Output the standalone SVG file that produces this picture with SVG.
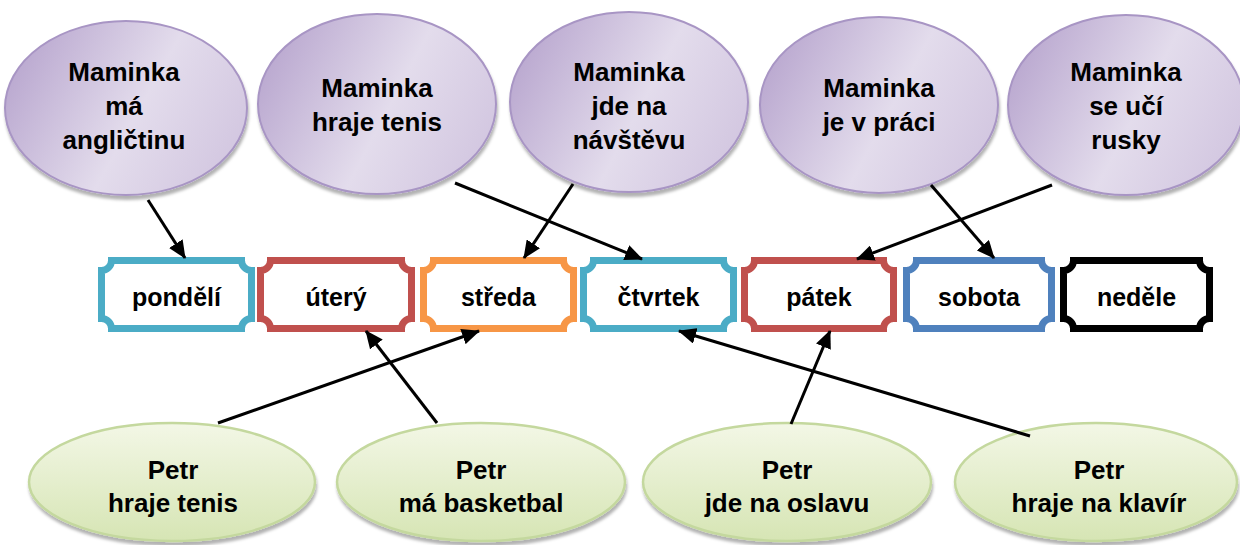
<svg xmlns="http://www.w3.org/2000/svg" width="1240" height="545" viewBox="0 0 1240 545">
<defs>
  <linearGradient id="gPurple" x1="0" y1="0.3" x2="1" y2="0.7">
    <stop offset="0" stop-color="#b9a7cf"/>
    <stop offset="0.55" stop-color="#e3dcec"/>
    <stop offset="1" stop-color="#d2c6e0"/>
  </linearGradient>
  <linearGradient id="gGreen" x1="0" y1="0" x2="0" y2="1">
    <stop offset="0" stop-color="#f3f7e6"/>
    <stop offset="1" stop-color="#d6e5b4"/>
  </linearGradient>
  <filter id="shadow" x="-10%" y="-10%" width="120%" height="130%">
    <feDropShadow dx="1" dy="4" stdDeviation="1.5" flood-color="#000" flood-opacity="0.3"/>
  </filter>
  <marker id="arrow" markerUnits="userSpaceOnUse" markerWidth="18" markerHeight="16" refX="17" refY="8" orient="auto">
    <path d="M0,0 L18,8 L0,16 z" fill="#000"/>
  </marker>
</defs>
<style>
  .txt { font-family: "Liberation Sans", Arial, sans-serif; font-weight: bold; font-size: 26px; fill: #000; text-anchor: middle; }
  .day { font-family: "Liberation Sans", Arial, sans-serif; font-weight: bold; font-size: 25px; fill: #000; text-anchor: middle; }
  .mom { fill: url(#gPurple); stroke: #a895c4; stroke-width: 2; filter: url(#shadow); }
  .petr { fill: url(#gGreen); stroke: #c4d89e; stroke-width: 2.5; filter: url(#shadow); }
  .box { fill: #fff; stroke-width: 7; }
  .conn { stroke: #000; stroke-width: 3; fill: none; marker-end: url(#arrow); }
</style>
<rect width="1240" height="545" fill="#fff"/>

<g id="mom1"><ellipse class="mom" cx="126" cy="108" rx="121" ry="87"/>
  <text class="txt" x="124" y="81">Maminka</text><text class="txt" x="124" y="115">má</text><text class="txt" x="124" y="149">angličtinu</text></g>
<g id="mom2"><ellipse class="mom" cx="377" cy="104" rx="119" ry="90"/>
  <text class="txt" x="377" y="97">Maminka</text><text class="txt" x="377" y="131">hraje tenis</text></g>
<g id="mom3"><ellipse class="mom" cx="629" cy="102" rx="119" ry="90"/>
  <text class="txt" x="629" y="81">Maminka</text><text class="txt" x="629" y="115">jde na</text><text class="txt" x="629" y="149">návštěvu</text></g>
<g id="mom4"><ellipse class="mom" cx="879" cy="105" rx="119" ry="88"/>
  <text class="txt" x="879" y="97">Maminka</text><text class="txt" x="879" y="131">je v práci</text></g>
<g id="mom5"><ellipse class="mom" cx="1126" cy="105" rx="118" ry="90"/>
  <text class="txt" x="1126" y="81">Maminka</text><text class="txt" x="1126" y="115">se učí</text><text class="txt" x="1126" y="149">rusky</text></g>

<g id="pondeli"><path class="box" stroke="#4bacc6" d="M111.5,260.5 H241.5 A10,10 0 0 0 251.5,270.5 V318.5 A10,10 0 0 0 241.5,328.5 H111.5 A10,10 0 0 0 101.5,318.5 V270.5 A10,10 0 0 0 111.5,260.5 Z"/>
  <text class="day" x="176.5" y="306">pondělí</text></g>
<g id="utery"><path class="box" stroke="#c0504d" d="M270.5,260.5 H401.5 A10,10 0 0 0 411.5,270.5 V318.5 A10,10 0 0 0 401.5,328.5 H270.5 A10,10 0 0 0 260.5,318.5 V270.5 A10,10 0 0 0 270.5,260.5 Z"/>
  <text class="day" x="336" y="306">úterý</text></g>
<g id="streda"><path class="box" stroke="#f79646" d="M433.5,260.5 H563.5 A10,10 0 0 0 573.5,270.5 V318.5 A10,10 0 0 0 563.5,328.5 H433.5 A10,10 0 0 0 423.5,318.5 V270.5 A10,10 0 0 0 433.5,260.5 Z"/>
  <text class="day" x="498.5" y="306">středa</text></g>
<g id="ctvrtek"><path class="box" stroke="#4bacc6" d="M593.5,260.5 H723.5 A10,10 0 0 0 733.5,270.5 V318.5 A10,10 0 0 0 723.5,328.5 H593.5 A10,10 0 0 0 583.5,318.5 V270.5 A10,10 0 0 0 593.5,260.5 Z"/>
  <text class="day" x="658.5" y="306">čtvrtek</text></g>
<g id="patek"><path class="box" stroke="#c0504d" d="M754.5,260.5 H883.5 A10,10 0 0 0 893.5,270.5 V318.5 A10,10 0 0 0 883.5,328.5 H754.5 A10,10 0 0 0 744.5,318.5 V270.5 A10,10 0 0 0 754.5,260.5 Z"/>
  <text class="day" x="819" y="306">pátek</text></g>
<g id="sobota"><path class="box" stroke="#4f81bd" d="M916.5,260.5 H1041.5 A10,10 0 0 0 1051.5,270.5 V318.5 A10,10 0 0 0 1041.5,328.5 H916.5 A10,10 0 0 0 906.5,318.5 V270.5 A10,10 0 0 0 916.5,260.5 Z"/>
  <text class="day" x="979" y="306">sobota</text></g>
<g id="nedele"><path class="box" stroke="#000000" d="M1073.5,260.5 H1199.5 A10,10 0 0 0 1209.5,270.5 V318.5 A10,10 0 0 0 1199.5,328.5 H1073.5 A10,10 0 0 0 1063.5,318.5 V270.5 A10,10 0 0 0 1073.5,260.5 Z"/>
  <text class="day" x="1136.5" y="306">neděle</text></g>

<g id="petr1"><ellipse class="petr" cx="172" cy="482" rx="143" ry="59"/>
  <text class="txt" x="173" y="479">Petr</text><text class="txt" x="173" y="512">hraje tenis</text></g>
<g id="petr2"><ellipse class="petr" cx="481" cy="482" rx="144" ry="59"/>
  <text class="txt" x="481" y="479">Petr</text><text class="txt" x="481" y="512">má basketbal</text></g>
<g id="petr3"><ellipse class="petr" cx="787" cy="482" rx="144" ry="59"/>
  <text class="txt" x="787" y="479">Petr</text><text class="txt" x="787" y="512">jde na oslavu</text></g>
<g id="petr4"><ellipse class="petr" cx="1096" cy="482" rx="141" ry="59"/>
  <text class="txt" x="1099" y="479">Petr</text><text class="txt" x="1099" y="512">hraje na klavír</text></g>

<g id="connectors">
  <line class="conn" x1="148" y1="200" x2="185" y2="258"/>
  <line class="conn" x1="455" y1="183" x2="642" y2="259"/>
  <line class="conn" x1="573" y1="184" x2="524" y2="258"/>
  <line class="conn" x1="931" y1="185" x2="994" y2="258"/>
  <line class="conn" x1="1052" y1="185" x2="857" y2="259"/>
  <line class="conn" x1="218" y1="423" x2="479" y2="331"/>
  <line class="conn" x1="437" y1="423" x2="366" y2="331"/>
  <line class="conn" x1="791" y1="424" x2="830" y2="331"/>
  <line class="conn" x1="1030" y1="436" x2="679" y2="331"/>
</g>
</svg>
